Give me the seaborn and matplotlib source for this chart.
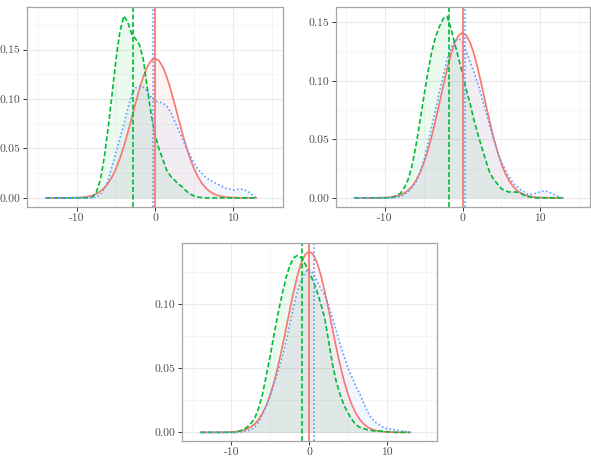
import numpy as np
import pandas as pd
import matplotlib
matplotlib.use("Agg")
import matplotlib.pyplot as plt
import seaborn as sns
from matplotlib.ticker import FixedLocator, FixedFormatter

sns.set_style("white")
plt.rcParams['font.family'] = ['cmr10', 'DejaVu Serif']
plt.rcParams['axes.unicode_minus'] = False

# ---------------- data ----------------
x_grid = [-14, -13.5, -13, -12.5, -12, -11.5, -11, -10.5, -10, -9.5, -9, -8.5,
          -8, -7.5, -7, -6.5, -6, -5.5, -5, -4.5, -4, -3.5, -3, -2.5, -2, -1.5,
          -1, -0.5, 0, 0.5, 1, 1.5, 2, 2.5, 3, 3.5, 4, 4.5, 5, 5.5, 6, 6.5, 7,
          7.5, 8, 8.5, 9, 9.5, 10, 10.5, 11, 11.5, 12, 12.5, 13]

# reference normal density (same in every panel)
red_density = [0, 0, 0, 0, 0, 0,
               0.0001, 0.0002, 0.0003, 0.0005, 0.0009, 0.0015, 0.0026, 0.0042,
               0.0066, 0.0101, 0.0149, 0.0213, 0.0296, 0.0398, 0.0519, 0.0656,
               0.0803, 0.0954, 0.1098, 0.1225, 0.1325, 0.1388,
               0.1410,
               0.1388, 0.1325, 0.1225, 0.1098, 0.0954, 0.0803, 0.0656, 0.0519,
               0.0398, 0.0296, 0.0213, 0.0149, 0.0101, 0.0066, 0.0042, 0.0026,
               0.0015, 0.0009, 0.0005, 0.0003, 0.0002, 0.0001,
               0, 0, 0, 0]

green_p1 = [0, 0, 0, 0, 0, 0, 0, 0, 0, 0, 0, 0,
            0.001, 0.006, 0.018, 0.041, 0.071, 0.105, 0.140, 0.168, 0.184,
            0.178, 0.166, 0.161, 0.155, 0.140, 0.112, 0.085, 0.064, 0.050,
            0.039, 0.028, 0.022, 0.018, 0.014, 0.011, 0.007, 0.004, 0.002,
            0.0008, 0.0003,
            0, 0, 0, 0, 0, 0, 0, 0, 0, 0, 0, 0, 0, 0]
blue_p1 = [0, 0, 0, 0, 0, 0, 0, 0, 0, 0, 0, 0, 0,
           0.001, 0.003, 0.009, 0.018, 0.032, 0.046, 0.060, 0.074, 0.090,
           0.104, 0.111, 0.113, 0.112, 0.108, 0.102, 0.098, 0.097, 0.096,
           0.093, 0.087, 0.078, 0.069, 0.060, 0.051, 0.043, 0.035, 0.029,
           0.025, 0.021, 0.018, 0.016, 0.014, 0.012, 0.010, 0.009, 0.008,
           0.0085, 0.009, 0.008, 0.006, 0.003, 0]

green_p2 = [0, 0, 0, 0, 0, 0, 0, 0, 0, 0,
            0.0005, 0.002, 0.004, 0.009, 0.016, 0.028, 0.045, 0.065, 0.086,
            0.106, 0.124, 0.137, 0.146, 0.153, 0.155, 0.145, 0.132, 0.119,
            0.106, 0.092, 0.080, 0.066, 0.054, 0.043, 0.032, 0.022, 0.016,
            0.012, 0.008, 0.006, 0.005, 0.005, 0.005, 0.004, 0.002, 0.001,
            0.0005,
            0, 0, 0, 0, 0, 0, 0, 0]
blue_p2 = [0, 0, 0, 0, 0, 0, 0, 0, 0, 0, 0,
           0.0005, 0.001, 0.003, 0.005, 0.009, 0.014, 0.022, 0.032, 0.045,
           0.060, 0.075, 0.090, 0.104, 0.118, 0.128, 0.134, 0.136, 0.133,
           0.125, 0.116, 0.107, 0.097, 0.086, 0.074, 0.062, 0.050, 0.040,
           0.031, 0.024, 0.018, 0.013, 0.010, 0.007, 0.005, 0.003, 0.003,
           0.004, 0.005, 0.006, 0.0055, 0.004, 0.002, 0.001, 0]

green_p3 = [0, 0, 0, 0, 0, 0, 0, 0, 0, 0,
            0.001, 0.002, 0.004, 0.007, 0.011, 0.019, 0.030, 0.045, 0.060,
            0.077, 0.093, 0.107, 0.120, 0.130, 0.136, 0.138, 0.136, 0.131,
            0.125, 0.118, 0.110, 0.100, 0.089, 0.071, 0.053, 0.039, 0.029,
            0.021, 0.015, 0.010, 0.006, 0.004, 0.003, 0.002, 0.0015, 0.001,
            0.001, 0.0008, 0.0005, 0.0003,
            0, 0, 0, 0, 0]
blue_p3 = [0, 0, 0, 0, 0, 0, 0, 0, 0, 0, 0,
           0.0005, 0.001, 0.002, 0.004, 0.008, 0.014, 0.021, 0.029, 0.038,
           0.048, 0.058, 0.070, 0.084, 0.098, 0.110, 0.119, 0.125, 0.127,
           0.124, 0.118, 0.112, 0.107, 0.099, 0.089, 0.079, 0.068, 0.059,
           0.050, 0.043, 0.036, 0.030, 0.023, 0.016, 0.011, 0.008, 0.006,
           0.004, 0.003, 0.0025, 0.002, 0.0015, 0.001, 0.0005, 0]

red_mean = [0.0, 0.0, 0.0]
green_mean = [-2.86, -1.7, -0.9]
blue_mean = [-0.3, 0.3, 0.6]

x_ticks = [-10, 0, 10]
x_tick_labels = ["-10", "0", "10"]
y_ticks_p12 = [0.00, 0.05, 0.10, 0.15]
y_labels_p12 = ["0.00", "0.05", "0.10", "0.15"]
y_ticks_p3 = [0.00, 0.05, 0.10]
y_labels_p3 = ["0.00", "0.05", "0.10"]

# ---------------- style ----------------
RED = "#F8766D"
GREEN = "#00BA38"
BLUE = "#619CFF"
LW = 1.2
DASH = (0, (3.0, 1.5))
DOT = (0, (1, 1.4))

W, H = 591, 462
fig = plt.figure(figsize=(W / 100, H / 100), dpi=100)


def axes_px(left, top, width, height):
    return fig.add_axes([left / W, 1 - (top + height) / H, width / W, height / H])


panels = [
    dict(ax=axes_px(27, 7, 256, 200), green=green_p1, blue=blue_p1,
         ylim=(-0.0092, 0.193), yt=y_ticks_p12, yl=y_labels_p12, i=0),
    dict(ax=axes_px(335.5, 7, 254, 200), green=green_p2, blue=blue_p2,
         ylim=(-0.0078, 0.163), yt=y_ticks_p12, yl=y_labels_p12, i=1),
    dict(ax=axes_px(181.7, 242.7, 255, 198), green=green_p3, blue=blue_p3,
         ylim=(-0.0065, 0.1478), yt=y_ticks_p3, yl=y_labels_p3, i=2),
]

for p in panels:
    ax = p["ax"]
    i = p["i"]
    df = pd.DataFrame({"x": x_grid, "red": red_density,
                       "green": p["green"], "blue": p["blue"]})

    # grid
    ax.set_axisbelow(True)
    ax.xaxis.set_major_locator(FixedLocator(x_ticks))
    ax.xaxis.set_major_formatter(FixedFormatter(x_tick_labels))
    ax.xaxis.set_minor_locator(FixedLocator([-15, -5, 5, 15]))
    ax.yaxis.set_major_locator(FixedLocator(p["yt"]))
    ax.yaxis.set_major_formatter(FixedFormatter(p["yl"]))
    ax.yaxis.set_minor_locator(FixedLocator([0.025, 0.075, 0.125, 0.175]))
    ax.grid(True, which="major", color="#EBEBEB", lw=0.8)
    ax.grid(True, which="minor", color="#F4F4F4", lw=0.6)

    # fills
    ax.fill_between(df["x"], df["red"], color=RED, alpha=0.08, lw=0)
    ax.fill_between(df["x"], df["green"], color=GREEN, alpha=0.08, lw=0)
    ax.fill_between(df["x"], df["blue"], color=BLUE, alpha=0.08, lw=0)

    # density lines
    sns.lineplot(data=df, x="x", y="red", ax=ax, color=RED, lw=LW,
                 linestyle="-", estimator=None, sort=False)
    sns.lineplot(data=df, x="x", y="green", ax=ax, color=GREEN, lw=LW,
                 linestyle=DASH, estimator=None, sort=False)
    sns.lineplot(data=df, x="x", y="blue", ax=ax, color=BLUE, lw=LW,
                 linestyle=DOT, estimator=None, sort=False)

    # mean lines
    ax.axvline(red_mean[i], color=RED, lw=LW, ls="-")
    ax.axvline(green_mean[i], color=GREEN, lw=LW, ls=DASH)
    ax.axvline(blue_mean[i], color=BLUE, lw=LW, ls=DOT)

    ax.set_xlim(-16.4, 16.4)
    ax.set_ylim(*p["ylim"])
    ax.set_xlabel("")
    ax.set_ylabel("")

    for s in ax.spines.values():
        s.set_color("#A6A6A6")
        s.set_linewidth(0.9)
    ax.tick_params(which="major", length=3, width=0.7, color="#333333",
                   labelcolor="#4D4D4D", labelsize=8.4, pad=1.6,
                   bottom=True, left=True, top=False, right=False)
    ax.tick_params(which="minor", length=0)

fig.savefig("out.png", dpi=100)
